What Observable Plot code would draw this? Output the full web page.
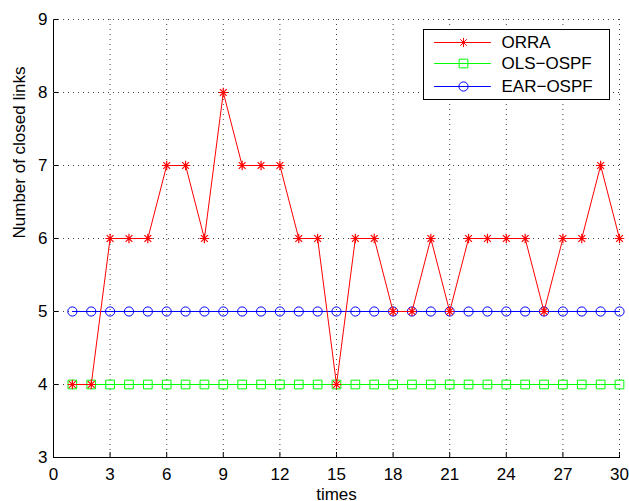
<!DOCTYPE html>
<html><head><meta charset="utf-8">
<script src="https://cdn.jsdelivr.net/npm/d3@7"></script>
<script src="https://cdn.jsdelivr.net/npm/@observablehq/plot@0.6"></script>
<style>
html,body{margin:0;padding:0;background:#fff;overflow:hidden;}
#wrap{position:relative;width:629px;height:501px;overflow:hidden;}
#legend{position:absolute;left:423px;top:29px;}
#chart svg text{font-size:17px;}
#legend svg text{font-size:17px;}
</style></head>
<body><div id="wrap"><div id="chart"></div><div id="legend"></div></div>
<script>
const times = [1,2,3,4,5,6,7,8,9,10,11,12,13,14,15,16,17,18,19,20,21,22,23,24,25,26,27,28,29,30];
const orra = [4,4,6,6,6,7,7,6,8,7,7,7,6,6,4,6,6,5,5,6,5,6,6,6,6,5,6,6,7,6];
const olsOspf = [4,4,4,4,4,4,4,4,4,4,4,4,4,4,4,4,4,4,4,4,4,4,4,4,4,4,4,4,4,4];
const earOspf = [5,5,5,5,5,5,5,5,5,5,5,5,5,5,5,5,5,5,5,5,5,5,5,5,5,5,5,5,5,5];
const seriesNames = ["ORRA","OLS\u2212OSPF","EAR\u2212OSPF"];
const seriesColors = ["#ff0000","#00ff00","#0000ff"];
const xTicks = [0,3,6,9,12,15,18,21,24,27,30];
const yTicks = [3,4,5,6,7,8,9];

const star = {
  draw(ctx, size) {
    const r = Math.sqrt(size / Math.PI);
    const d = r * 0.7071;
    ctx.moveTo(-r, 0); ctx.lineTo(r, 0);
    ctx.moveTo(0, -r); ctx.lineTo(0, r);
    ctx.moveTo(-d, -d); ctx.lineTo(d, d);
    ctx.moveTo(-d, d); ctx.lineTo(d, -d);
  }
};
const symbols = [star, "square", "circle"];

const mk = (vals) => times.map((t, i) => ({t, v: vals[i]}));
const dOrra = mk(orra), dOls = mk(olsOspf), dEar = mk(earOspf);
const font = "'Liberation Sans', Arial, Helvetica, sans-serif";

const chart = Plot.plot({
  width: 629, height: 501,
  marginLeft: 53, marginRight: 10, marginTop: 19, marginBottom: 44,
  style: {fontFamily: font, fontSize: "17px", color: "#000", background: "#fff", overflow: "visible"},
  x: {domain: [0, 30], ticks: xTicks, tickFormat: d3.format("d"), tickSize: -5, tickPadding: 15, label: null, line: true},
  y: {domain: [3, 9], ticks: yTicks, tickFormat: d3.format("d"), tickSize: -5, tickPadding: 11, label: null, line: true},
  marks: [
    Plot.ruleX(xTicks.slice(1), {stroke: "#444", strokeDasharray: "1,4", strokeWidth: 1}),
    Plot.ruleY(yTicks.slice(1), {stroke: "#444", strokeDasharray: "1,4", strokeWidth: 1}),
    Plot.line(dOls, {x: "t", y: "v", stroke: seriesColors[1], strokeWidth: 1}),
    Plot.dot(dOls, {x: "t", y: "v", stroke: seriesColors[1], fill: "none", symbol: "square", r: 4.9, strokeWidth: 1}),
    Plot.line(dEar, {x: "t", y: "v", stroke: seriesColors[2], strokeWidth: 1}),
    Plot.dot(dEar, {x: "t", y: "v", stroke: seriesColors[2], fill: "none", symbol: "circle", r: 4.6, strokeWidth: 1}),
    Plot.line(dOrra, {x: "t", y: "v", stroke: seriesColors[0], strokeWidth: 1}),
    Plot.dot(dOrra, {x: "t", y: "v", stroke: seriesColors[0], fill: "none", symbol: star, r: 4.8, strokeWidth: 1.2}),
    Plot.text(["times"], {frameAnchor: "bottom", dy: 42, fontSize: 17, fill: "#000"}),
    Plot.text(["Number of closed links"], {frameAnchor: "left", dx: -34, rotate: -90, fontSize: 17, fill: "#000"})
  ]
});
document.getElementById("chart").appendChild(chart);

const legRows = [13, 34, 57];
const legendData = seriesNames.map((name, i) => ({name, i, y: legRows[i]}));
const legLines = [];
legendData.forEach(d => { legLines.push({x: 11, y: d.y, i: d.i}); legLines.push({x: 67, y: d.y, i: d.i}); });
const legend = Plot.plot({
  width: 186, height: 70, margin: 0,
  style: {fontFamily: font, fontSize: "17px", background: "#fff", overflow: "visible"},
  x: {domain: [0, 186], range: [0, 186], axis: null},
  y: {domain: [0, 70], range: [0, 70], axis: null},
  marks: [
    Plot.frame({stroke: "#000", strokeWidth: 1}),
    ...seriesNames.map((n, i) => Plot.line(legLines.filter(p => p.i === i), {x: "x", y: "y", stroke: seriesColors[i], strokeWidth: 1})),
    ...seriesNames.map((n, i) => Plot.dot([legendData[i]], {x: () => 40, y: "y", stroke: seriesColors[i], fill: "none", symbol: symbols[i], r: i === 1 ? 4.9 : 4.6, strokeWidth: 1})),
    Plot.text(legendData, {x: () => 78, y: "y", text: "name", textAnchor: "start", fontSize: 17, fill: "#000"})
  ]
});
document.getElementById("legend").appendChild(legend);
</script></body></html>
